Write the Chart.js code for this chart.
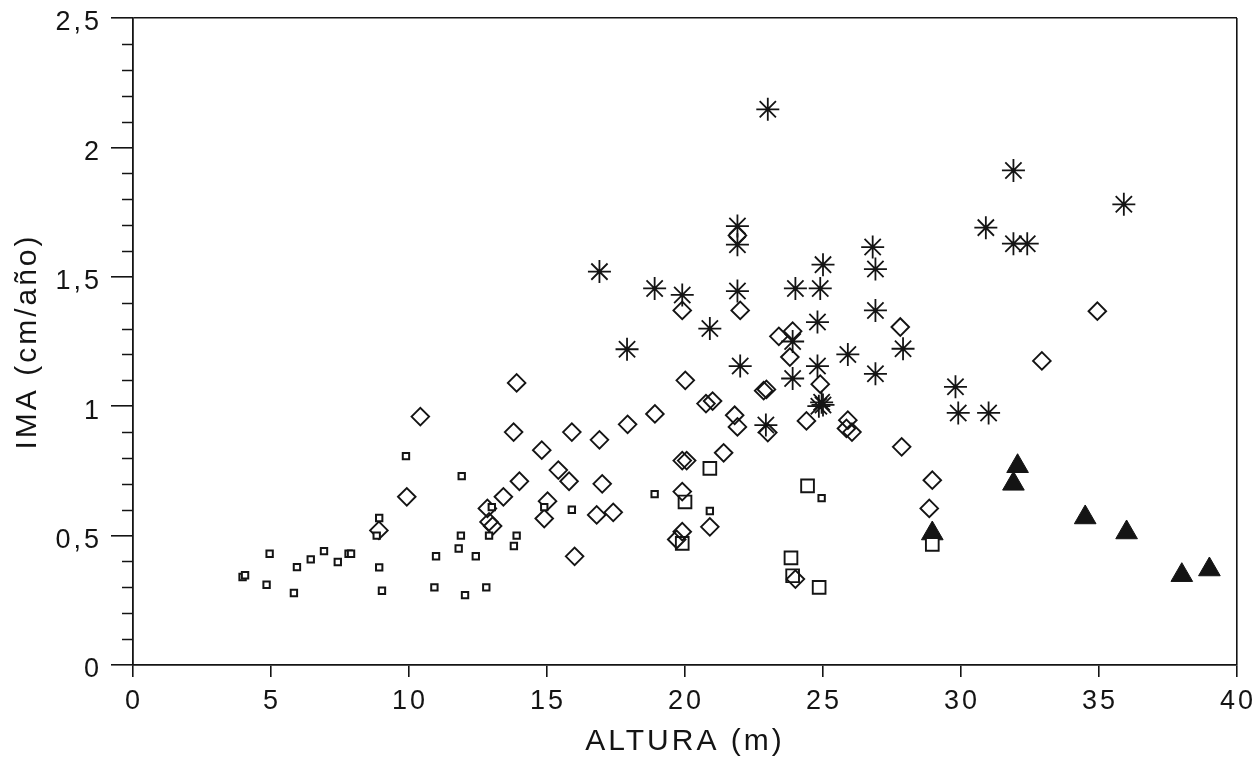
<!DOCTYPE html>
<html>
<head>
<meta charset="utf-8">
<script src="https://cdn.jsdelivr.net/npm/chart.js@4.4.1/dist/chart.umd.min.js"></script>
<style>
  html, body { margin: 0; padding: 0; background: #ffffff; }
  #wrap { width: 1259px; height: 760px; position: relative; }
</style>
</head>
<body>
<div id="wrap"><canvas id="chart"></canvas></div>
<script>
// ---- Data (x = ALTURA m, y = IMA cm/año) ----
const xAxisTitle = 'ALTURA (m)';
const yAxisTitle = 'IMA (cm/año)';
const xTickValues = [0, 5, 10, 15, 20, 25, 30, 35, 40];
const yTickLabels = ['0', '0,5', '1', '1,5', '2', '2,5'];
const yMinorTickValues = [0.1, 0.2, 0.3, 0.4, 0.6, 0.7, 0.8, 0.9, 1.1, 1.2, 1.3, 1.4,
                          1.6, 1.7, 1.8, 1.9, 2.1, 2.2, 2.3, 2.4];

const smallSquares = [
  [3.97, 0.34], [4.06, 0.347], [4.95, 0.43], [4.84, 0.31], [5.94, 0.378], [5.83, 0.278],
  [6.44, 0.408], [6.92, 0.44], [7.42, 0.398], [7.81, 0.43], [7.9, 0.43], [8.92, 0.568],
  [8.83, 0.50], [8.92, 0.377], [9.02, 0.287], [9.89, 0.807], [10.98, 0.42], [10.92, 0.30],
  [11.91, 0.73], [13.0, 0.61], [11.88, 0.50], [11.8, 0.45], [12.42, 0.42], [12.03, 0.27],
  [12.8, 0.30], [12.9, 0.50], [13.9, 0.50], [13.8, 0.46], [14.9, 0.61], [15.9, 0.60],
  [18.9, 0.66], [20.9, 0.595], [24.95, 0.645]
];

const diamonds = [
  [8.91, 0.52], [9.92, 0.65], [10.41, 0.96], [13.9, 1.09], [13.79, 0.90], [14.81, 0.83],
  [15.9, 0.90], [16.9, 0.87], [17.92, 0.93], [18.91, 0.97], [20.01, 1.10], [20.76, 1.01],
  [21.0, 1.02], [14.0, 0.71], [13.42, 0.65], [12.84, 0.605], [12.9, 0.553], [13.03, 0.537],
  [15.02, 0.633], [14.9, 0.566], [15.41, 0.753], [15.8, 0.71], [16.0, 0.42], [17.0, 0.70],
  [16.8, 0.58], [17.4, 0.59], [19.9, 0.79], [20.06, 0.79], [19.9, 0.67], [20.9, 0.534],
  [19.9, 0.515], [19.7, 0.485], [21.4, 0.82], [21.8, 0.965], [21.9, 0.92], [23.0, 0.898],
  [22.85, 1.06], [22.95, 1.065], [21.9, 1.66], [19.9, 1.37], [22.0, 1.37], [23.4, 1.27],
  [23.9, 1.29], [23.8, 1.19], [24.9, 1.085], [24.4, 0.943], [25.9, 0.946], [25.85, 0.914],
  [26.05, 0.90], [27.8, 1.306], [27.85, 0.843], [28.96, 0.714], [28.85, 0.605],
  [32.93, 1.175], [34.94, 1.367], [24.0, 0.332]
];

const asterisks = [
  [23.0, 2.147], [21.9, 1.696], [21.9, 1.624], [16.9, 1.52], [18.9, 1.455], [19.9, 1.43],
  [21.9, 1.445], [20.9, 1.30], [17.9, 1.22], [22.0, 1.155], [26.8, 1.615], [26.9, 1.53],
  [25.0, 1.547], [24.0, 1.455], [24.9, 1.455], [26.9, 1.37], [24.8, 1.325], [23.9, 1.25],
  [25.9, 1.20], [26.9, 1.125], [24.8, 1.155], [23.9, 1.107], [24.85, 1.0], [24.95, 1.015],
  [25.0, 1.005], [22.93, 0.927], [31.9, 1.911], [35.9, 1.78], [30.9, 1.69], [31.9, 1.628],
  [32.4, 1.628], [27.9, 1.222], [29.8, 1.075], [29.9, 0.974], [31.0, 0.974]
];

const largeSquares = [
  [20.9, 0.76], [20.0, 0.63], [19.9, 0.47], [24.44, 0.692], [23.84, 0.414], [23.9, 0.345],
  [24.86, 0.30], [28.96, 0.466]
];

const triangles = [
  [28.96, 0.508], [32.05, 0.768], [31.9, 0.70], [34.5, 0.57], [36.0, 0.512], [38.0, 0.347],
  [39.0, 0.369]
];

const toPoints = arr => arr.map(p => ({ x: p[0], y: p[1] }));
const INK = '#141414';

const spacingPlugin = {
  id: 'spacing',
  beforeLayout(chart) { chart.ctx.letterSpacing = '3px'; },
  beforeDraw(chart) { chart.ctx.letterSpacing = '3px'; }
};

const minorTickPlugin = {
  id: 'minorTicks',
  afterDraw(chart) {
    const ys = chart.scales.y;
    const ctx = chart.ctx;
    ctx.save();
    ctx.strokeStyle = INK;
    ctx.lineWidth = 1.5;
    yMinorTickValues.forEach(v => {
      const py = Math.round(ys.getPixelForValue(v)) + 0.5;
      ctx.beginPath();
      ctx.moveTo(ys.right - 11, py);
      ctx.lineTo(ys.right, py);
      ctx.stroke();
    });
    ctx.restore();
  }
};

new Chart(document.getElementById('chart'), {
  type: 'scatter',
  data: {
    datasets: [
      { label: 'small', data: toPoints(smallSquares), pointStyle: 'rect', pointRadius: 4.5,
        borderColor: INK, backgroundColor: '#ffffff', borderWidth: 2 },
      { label: 'diamond', data: toPoints(diamonds), pointStyle: 'rectRot', pointRadius: 8.8,
        borderColor: INK, backgroundColor: 'rgba(255,255,255,0)', borderWidth: 1.9 },
      { label: 'star', data: toPoints(asterisks), pointStyle: 'star', pointRadius: 11.5,
        borderColor: INK, backgroundColor: INK, borderWidth: 1.8 },
      { label: 'square', data: toPoints(largeSquares), pointStyle: 'rect', pointRadius: 9,
        borderColor: INK, backgroundColor: '#ffffff', borderWidth: 1.9 },
      { label: 'triangle', data: toPoints(triangles), pointStyle: 'triangle', pointRadius: 12.5,
        borderColor: INK, backgroundColor: INK, borderWidth: 1 }
    ]
  },
  options: {
    responsive: true,
    maintainAspectRatio: false,
    animation: false,
    layout: { padding: { left: 0, right: 22, top: 18, bottom: 0 } },
    plugins: { legend: { display: false }, tooltip: { enabled: false } },
    scales: {
      x: {
        type: 'linear', position: 'bottom', min: 0, max: 40,
        afterFit: s => { s.height = 95; s.paddingLeft = 0; s.paddingRight = 0; },
        afterBuildTicks: s => { s.ticks = xTickValues.map(v => ({ value: v })); },
        border: { display: true, color: INK, width: 1.8 },
        grid: {
          drawTicks: true, tickLength: 12, tickColor: INK, tickWidth: 1.6, lineWidth: 1.6,
          color: c => (c.tick && c.tick.value === 40) ? INK : 'rgba(0,0,0,0)'
        },
        ticks: {
          padding: 8, labelOffset: 1, color: INK, maxRotation: 0,
          font: { family: 'Liberation Sans', size: 27 },
          callback: v => String(v)
        },
        title: {
          display: true, text: xAxisTitle, color: INK,
          font: { family: 'Liberation Sans', size: 30 }, padding: { top: 0, bottom: 0 }
        }
      },
      y: {
        type: 'linear', position: 'left', min: 0, max: 2.5,
        afterFit: s => { s.width = 133; s.paddingTop = 0; s.paddingBottom = 0; },
        afterBuildTicks: s => { s.ticks = yTickLabels.map((t, i) => ({ value: i * 0.5 })); },
        border: { display: true, color: INK, width: 1.8 },
        grid: {
          drawTicks: true, tickLength: 22, tickColor: INK, tickWidth: 1.6, lineWidth: 1.6,
          color: c => (c.tick && c.tick.value === 2.5) ? INK : 'rgba(0,0,0,0)'
        },
        ticks: {
          padding: 9, labelOffset: 5, color: INK,
          font: { family: 'Liberation Sans', size: 27 },
          callback: (v, i) => yTickLabels[i]
        },
        title: {
          display: true, text: yAxisTitle, color: INK,
          font: { family: 'Liberation Sans', size: 30 }, padding: { top: 10, bottom: 0 }
        }
      }
    }
  },
  plugins: [spacingPlugin, minorTickPlugin]
});
</script>
</body>
</html>
